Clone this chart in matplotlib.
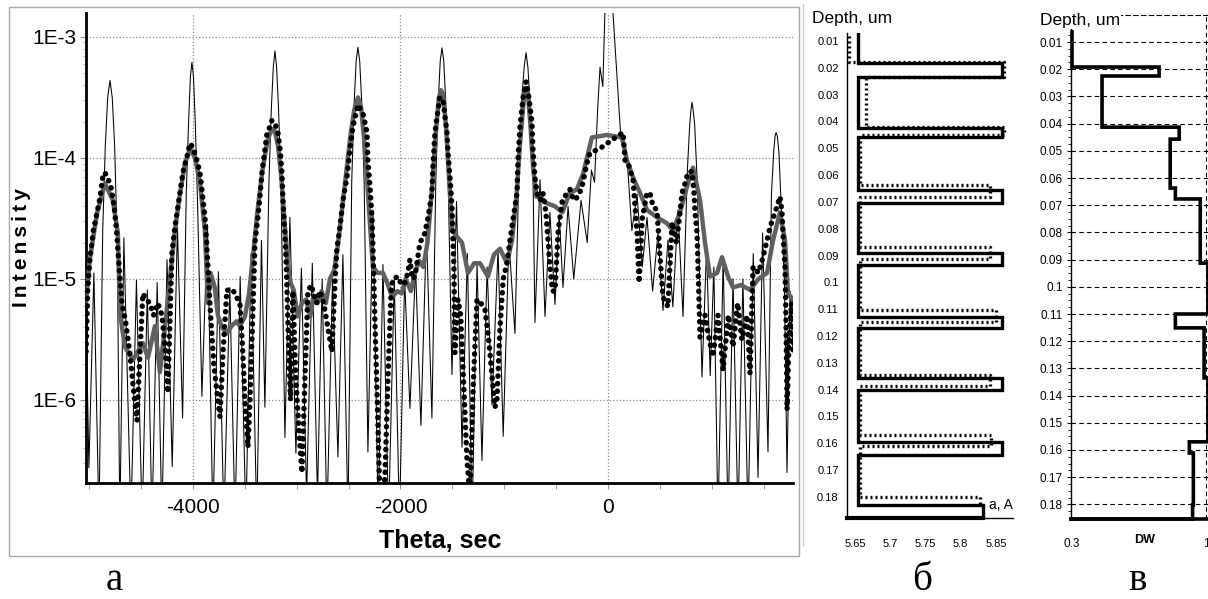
import numpy as np
import matplotlib.pyplot as plt
from matplotlib.patches import Rectangle
from matplotlib.lines import Line2D
from matplotlib.ticker import FixedLocator, LogLocator, NullFormatter

W, H = 1208, 599
NARROW = ['Liberation Sans Narrow', 'Liberation Sans', 'DejaVu Sans']
SANS = ['Liberation Sans', 'DejaVu Sans']
SERIF = ['Liberation Serif', 'DejaVu Serif']

# ---- rocking curve (log10 of intensity) ----
thin_theta = [-5030, -5003, -4955, -4906, -4870, -4845, -4822, -4800, -4778, -4755, -4730,
              -4705, -4666, -4598, -4545, -4490, -4440, -4395, -4345, -4300, -4250, -4200,
              -4150, -4100, -4065, -4042, -4025, -4010, -3995, -3978, -3955, -3914, -3860,
              -3808, -3755, -3702, -3645, -3595, -3545, -3490, -3440, -3385, -3340, -3307,
              -3268, -3245, -3226, -3210, -3194, -3175, -3152, -3114, -3066, -3008, -2955,
              -2905, -2850, -2800, -2755, -2709, -2655, -2603, -2555, -2506, -2470, -2447,
              -2427, -2410, -2393, -2373, -2350, -2314, -2265, -2215, -2169, -2115, -2060,
              -2010, -1960, -1909, -1855, -1803, -1750, -1697, -1660, -1637, -1617, -1600,
              -1583, -1563, -1540, -1504, -1460, -1407, -1355, -1310, -1262, -1215, -1165,
              -1118, -1060, -1010, -955, -897, -858, -835, -808, -790, -772, -748, -725,
              -704, -655, -607, -560, -511, -470, -434, -385, -330, -260, -200, -160, -130,
              -100, -77, -50, -30, -10, 20, 48, 87, 125, 183, 230, 280, 330, 376, 430, 482,
              530, 578, 625, 675, 723, 765, 788, 800, 810, 820, 835, 860, 906, 950, 985,
              1020, 1060, 1110, 1157, 1205, 1253, 1300, 1350, 1400, 1446, 1490, 1542, 1575,
              1597, 1610, 1620, 1632, 1647, 1670, 1700, 1725, 1755, 1783]
thin_log = [-5.3, -6.56, -4.95, -7.0, -4.6, -3.9, -3.5, -3.36, -3.5, -3.9, -4.7,
            -7.0, -4.66, -7.0, -5.01, -7.0, -5.09, -7.0, -5.03, -7.0, -4.84, -6.55,
            -4.57, -6.15, -4.3, -3.7, -3.33, -3.21, -3.33, -3.7, -4.4, -5.97, -4.55,
            -7.0, -4.94, -7.0, -5.07, -7.0, -4.98, -7.0, -4.79, -7.0, -4.68, -6.06,
            -4.2, -3.6, -3.25, -3.115, -3.25, -3.6, -4.2, -6.31, -4.49, -6.44, -4.91,
            -6.8, -4.87, -6.8, -5.0, -7.0, -5.0, -6.47, -4.8, -7.0, -4.2, -3.55,
            -3.2, -3.085, -3.2, -3.55, -4.2, -6.43, -4.43, -7.0, -4.88, -7.0, -5.0,
            -7.0, -5.0, -6.07, -4.9, -6.21, -4.6, -6.15, -4.2, -3.55, -3.2, -3.09,
            -3.2, -3.55, -4.2, -5.79, -4.36, -6.39, -4.79, -7.0, -4.87, -6.5, -4.9,
            -6.04, -4.75, -6.3, -4.68, -5.45, -4.1, -3.55, -3.25, -3.13, -3.25, -3.6, -4.0,
            -5.36, -4.18, -5.31, -4.45, -5.21, -4.47, -5.07, -4.40, -5.0, -4.35, -4.7, -4.1, -4.2,
            -3.6, -3.25, -3.41, -2.8, -2.2, -2.2, -2.8, -3.33, -3.85, -3.99, -4.6, -4.3, -4.9, -4.49, -5.1, -4.62,
            -5.26, -4.68, -5.23, -4.43, -5.31, -4.1, -3.72, -3.6, -3.54, -3.6, -3.72, -4.2, -5.81, -4.74, -5.8,
            -4.90, -7.0, -4.82, -7.0, -5.0, -7.0, -5.0, -7.0, -4.79, -6.64, -4.62, -6.43, -4.3,
            -3.95, -3.82, -3.79, -3.82, -3.95, -4.4, -5.0, -6.6, -5.1, -5.6]

exp_theta = [-5030, -5015, -4994, -4960, -4926, -4895, -4870, -4849, -4820, -4790, -4760,
             -4740, -4724, -4705, -4685, -4650, -4610, -4575, -4540, -4510, -4483, -4450,
             -4415, -4380, -4338, -4299, -4265, -4242, -4220, -4203, -4174, -4126, -4097,
             -4058, -4030, -4001, -3962, -3933, -3914, -3885, -3870, -3856, -3830, -3800,
             -3760, -3740, -3710, -3673, -3640, -3615, -3580, -3548, -3520, -3499, -3470,
             -3451, -3420, -3403, -3374, -3355, -3335, -3307, -3287, -3258, -3239, -3210,
             -3181, -3160, -3143, -3133, -3114, -3100, -3080, -3060, -3037, -3010, -2975,
             -2950, -2920, -2892, -2860, -2844, -2810, -2776, -2740, -2700, -2661, -2630,
             -2612, -2583, -2555, -2516, -2487, -2458, -2410, -2362, -2323, -2314, -2294,
             -2275, -2265, -2245, -2217, -2200, -2180, -2150, -2120, -2090, -2073, -2024,
             -1990, -1957, -1930, -1909, -1885, -1861, -1812, -1764, -1735, -1697, -1687,
             -1668, -1648, -1620, -1590, -1571, -1552, -1542, -1523, -1504, -1494, -1485,
             -1475, -1446, -1420, -1390, -1359, -1330, -1300, -1263, -1225, -1186, -1150,
             -1118, -1090, -1070, -1041, -1010, -974, -945, -916, -877, -868, -848, -819,
             -790, -762, -733, -723, -704, -684, -656, -627, -598, -578, -559, -535, -511,
             -480, -440, -395, -366, -330, -289, -251, -202, -174, -125, -58, 39, 145, 164,
             193, 241, 260, 280, 300, 330, 376, 405, 434, 472, 500, 530, 578, 617, 660,
             694, 713, 742, 771, 810, 829, 839, 858, 868, 887, 935, 975, 1012, 1060, 1109,
             1160, 1205, 1250, 1290, 1340, 1369, 1398, 1450, 1494, 1533, 1562, 1610, 1658,
             1677, 1690, 1706, 1715, 1726, 1745, 1770, 1783]
exp_log = [-5.6, -5.1, -4.84, -4.6, -4.46, -4.32, -4.16, -4.12, -4.17, -4.24, -4.40,
           -4.57, -4.76, -4.98, -5.2, -5.35, -5.6, -5.9, -6.17, -5.6, -5.12, -5.17,
           -5.2, -5.3, -5.2, -5.3, -5.6, -5.94, -5.3, -4.79, -4.57, -4.29, -4.12,
           -3.99, -3.88, -3.91, -4.02, -4.12, -4.26, -4.49, -4.68, -4.90, -5.3, -5.7,
           -6.0, -6.14, -5.6, -5.09, -5.1, -5.09, -5.15, -5.2, -5.6, -6.0, -6.39,
           -6.0, -5.2, -4.70, -4.49, -4.32, -4.12, -3.93, -3.80, -3.74, -3.69, -3.71,
           -3.79, -3.93, -4.12, -4.35, -4.62, -4.90, -5.5, -6.0, -5.1, -5.8, -6.3,
           -6.60, -5.8, -5.1, -5.05, -5.1, -5.2, -5.1, -5.2, -5.4, -5.6, -5.0,
           -4.74, -4.57, -4.35, -4.16, -3.93, -3.74, -3.56, -3.63, -3.79, -4.02, -4.24,
           -4.49, -4.76, -5.4, -6.2, -6.8, -6.8, -6.64, -5.8, -5.1, -5.0, -4.98,
           -5.05, -5.03, -4.95, -4.84, -5.0, -4.98, -4.70, -4.62, -4.49, -4.29, -4.07,
           -3.79, -3.66, -3.50, -3.52, -3.66, -3.79, -3.96, -4.16, -4.40, -4.68, -4.90,
           -5.61, -5.17, -5.3, -5.9, -6.5, -6.8, -5.9, -5.17, -5.2, -5.25, -5.5,
           -5.8, -6.06, -6.0, -5.4, -5.0, -4.87, -4.68, -4.51, -4.29, -4.02, -3.74, -3.50,
           -3.37, -3.50, -3.71, -3.93, -4.16, -4.29, -4.35, -4.29, -4.45, -4.68, -4.90, -5.1, -5.1,
           -4.6, -4.35, -4.29, -4.26, -4.35, -4.32, -4.24, -4.04, -3.96, -3.94, -3.91, -3.85, -3.79, -4.02,
           -4.04, -4.18, -4.40, -4.62, -5.03, -4.5, -4.29, -4.29, -4.40, -4.43, -4.8, -5.15, -5.23, -4.53, -4.7,
           -4.45, -4.29, -4.21, -4.12, -4.11, -4.29, -4.45, -4.62, -4.90, -5.48, -5.3, -5.5, -5.64, -5.3, -5.75,
           -5.3, -5.56, -5.2, -5.5, -5.3, -5.78, -4.90, -4.95, -4.82, -4.68, -4.57, -4.45, -4.32,
           -4.45, -4.68, -4.90, -5.3, -6.08, -5.5, -5.2, -5.6]

fit_theta = [-5032, -4994, -4926, -4849, -4772, -4724, -4704, -4656, -4580, -4483, -4434,
             -4367, -4319, -4270, -4222, -4174, -4126, -4078, -4030, -3981, -3933, -3885,
             -3856, -3830, -3790, -3760, -3720, -3673, -3630, -3580, -3548, -3499, -3460,
             -3420, -3380, -3330, -3290, -3260, -3230, -3210, -3180, -3150, -3120, -3090,
             -3060, -3030, -2990, -2950, -2910, -2870, -2840, -2800, -2760, -2720, -2680,
             -2640, -2600, -2560, -2520, -2480, -2445, -2410, -2380, -2350, -2320, -2290,
             -2265, -2220, -2169, -2120, -2080, -2030, -1990, -1950, -1900, -1860, -1820,
             -1780, -1740, -1700, -1660, -1630, -1610, -1590, -1560, -1530, -1500, -1456,
             -1407, -1350, -1290, -1234, -1157, -1100, -1041, -974, -925, -880, -850, -820,
             -800, -775, -750, -720, -690, -656, -600, -511, -440, -370, -300, -240, -155,
             -10, 135, 183, 241, 309, 376, 472, 568, 626, 694, 760, 820, 887, 935, 983,
             1051, 1099, 1157, 1205, 1280, 1369, 1450, 1533, 1591, 1658, 1706, 1735, 1783]
fit_log = [-5.2, -4.84, -4.46, -4.21, -4.35, -4.62, -5.28, -5.56, -5.67, -5.53, -5.65,
           -5.39, -5.77, -5.4, -5.0, -4.6, -4.3, -4.05, -3.92, -4.0, -4.2, -4.6,
           -5.2, -4.95, -5.07, -5.3, -5.4, -5.45, -5.39, -5.35, -5.39, -5.31, -5.12,
           -4.8, -4.45, -4.1, -3.9, -3.8, -3.76, -3.78, -3.9, -4.15, -4.5, -4.85,
           -5.03, -5.09, -5.31, -5.2, -5.17, -5.31, -5.15, -5.2, -5.1, -5.2, -5.0,
           -4.93, -4.7, -4.4, -4.1, -3.8, -3.6, -3.5, -3.58, -3.85, -4.2, -4.6,
           -4.90, -4.95, -4.95, -5.05, -5.15, -5.1, -5.12, -5.0, -5.1, -4.95, -4.85,
           -4.9, -4.7, -4.3, -3.8, -3.5, -3.44, -3.47, -3.75, -4.2, -4.6, -4.65,
           -4.70, -4.95, -4.87, -4.87, -4.98, -4.8, -4.75, -4.87, -4.68, -4.3, -3.9, -3.6,
           -3.42, -3.43, -3.7, -4.1, -4.32, -4.32, -4.37, -4.40, -4.45, -4.29, -4.26, -4.13, -3.83,
           -3.81, -3.83, -4.02, -4.16, -4.29, -4.43, -4.49, -4.54, -4.60, -4.45, -4.24, -4.08, -4.35, -4.70, -4.98,
           -4.95, -4.82, -4.98, -5.07, -5.05, -5.09, -5.0, -4.95, -4.68, -4.45, -4.68, -5.12, -5.17]

# ---- panel b: lattice parameter profile ----
a_solid_depth = [0.0070, 0.0182, 0.0234, 0.0424, 0.0458, 0.0656, 0.0704, 0.0890, 0.0935,
                 0.1129, 0.1170, 0.1357, 0.1401, 0.1595, 0.1644, 0.1830, 0.1878]
a_solid = [5.654, 5.858, 5.654, 5.858, 5.654, 5.858, 5.654, 5.858, 5.654, 5.858, 5.654,
           5.858, 5.654, 5.858, 5.654, 5.832]
a_dot_depth = [0.0080, 0.0180, 0.0234, 0.0420, 0.0450, 0.0637, 0.0682, 0.0868, 0.0913,
               0.1103, 0.1148, 0.1345, 0.1386, 0.1569, 0.1610, 0.1800, 0.1838]
a_dot = [5.641, 5.862, 5.665, 5.862, 5.657, 5.841, 5.657, 5.841, 5.657, 5.850, 5.657,
         5.841, 5.657, 5.843, 5.657, 5.828]
a_ticks = [5.65, 5.7, 5.75, 5.8, 5.85]

# ---- panel c: Debye-Waller profile ----
dw_depth = [0.0063, 0.0192, 0.0225, 0.0413, 0.0457, 0.0637, 0.0677, 0.0913, 0.1100,
            0.1151, 0.1335, 0.1570, 0.1611, 0.1802, 0.1854]
dw = [0.30, 0.755, 0.457, 0.86, 0.813, 0.84, 0.97, 1.01, 0.84, 0.99, 1.01, 0.913, 0.934, 0.93]
depth_ticks = [0.01, 0.02, 0.03, 0.04, 0.05, 0.06, 0.07, 0.08, 0.09, 0.1, 0.11, 0.12,
               0.13, 0.14, 0.15, 0.16, 0.17, 0.18]


def px(l, t, r, b):
    return [l / W, 1 - b / H, (r - l) / W, (b - t) / H]


def steps(bounds, vals):
    ys = np.repeat(bounds, 2)[1:-1]
    xs = np.repeat(vals, 2)
    return xs, ys


fig = plt.figure(figsize=(W / 100, H / 100), dpi=100)
fig.patches.append(Rectangle((9 / W, 1 - 556 / H), 790 / W, 549 / H, transform=fig.transFigure,
                             fill=False, edgecolor='#a8a8a8', lw=1))
fig.lines.append(Line2D([803 / W, 803 / W], [1 - 545 / H, 1 - 4 / H], transform=fig.transFigure,
                        color='#cfcfcf', lw=1))

# main rocking curve
ax = fig.add_axes(px(86, 13, 793, 483))
ax.semilogy(thin_theta, 10 ** np.array(thin_log), color='black', lw=0.75, zorder=2)
ax.semilogy(fit_theta, 10 ** np.array(fit_log), color='#606060', lw=3.2, zorder=3,
            solid_joinstyle='round')
ax.semilogy(exp_theta, 10 ** np.array(exp_log), color='black', lw=3.9,
            linestyle=(0, (0.05, 1.35)), dash_capstyle='round', zorder=4)
ax.set_xlim(-5031, 1783)
ax.set_ylim(10 ** -6.686, 10 ** -2.802)
ax.xaxis.set_major_locator(FixedLocator([-4000, -2000, 0]))
ax.xaxis.set_minor_locator(FixedLocator(np.arange(-5000, 1501, 500)))
ax.yaxis.set_major_locator(FixedLocator([1e-6, 1e-5, 1e-4, 1e-3]))
ax.yaxis.set_minor_locator(LogLocator(base=10, subs=np.arange(2, 10)))
ax.yaxis.set_minor_formatter(NullFormatter())
ax.set_xticklabels(['-4000', '-2000', '0'])
ax.set_yticklabels(['1E-6', '1E-5', '1E-4', '1E-3'])
for lab in ax.get_xticklabels() + ax.get_yticklabels():
    lab.set_family(NARROW)
    lab.set_fontsize(15)
ax.tick_params(axis='x', which='both', length=4, color='#909090', pad=7)
ax.tick_params(axis='y', which='major', length=4, color='#909090', pad=3)
ax.tick_params(axis='y', which='minor', length=2, color='#b0b0b0')
ax.grid(True, which='major', linestyle=':', color='#8c8c8c', lw=0.9)
for s in ['top', 'right']:
    ax.spines[s].set_visible(False)
for s in ['left', 'bottom']:
    ax.spines[s].set_linewidth(2)
fig.text(22 / W, 1 - 248 / H, 'I\u2009n\u2009t\u2009e\u2009n\u2009s\u2009i\u2009t\u2009y', rotation=90,
         ha='center', va='center', fontsize=15, fontweight='bold', family=SANS)
fig.text(440 / W, 1 - 541 / H, 'Theta, sec', ha='center', va='center', fontsize=18,
         fontweight='bold', family=NARROW)

# panel b
ax2 = fig.add_axes(px(847, 33, 1013, 518))
xs, ys = steps(a_dot_depth, a_dot)
ax2.plot(xs, ys, color='black', lw=2.4, linestyle=(0, (0.6, 0.9)), zorder=2)
xs, ys = steps(a_solid_depth, a_solid)
ax2.plot(xs, ys, color='black', lw=2.4, zorder=3, solid_joinstyle='miter')
ax2.set_xlim(5.6387, 5.8742)
ax2.set_ylim(0.18785, 0.00702)
ax2.plot([5.6387, a_solid[-1]], [0.18785, 0.18785], color='black', lw=3, clip_on=False)
ax2.set_xticks(a_ticks)
ax2.set_xticklabels(['%g' % v for v in a_ticks], family=NARROW, fontsize=8)
ax2.set_yticks(depth_ticks)
ax2.set_yticklabels(['%g' % v for v in depth_ticks], family=NARROW, fontsize=8)
ax2.tick_params(axis='x', length=0, pad=15)
ax2.tick_params(axis='y', length=0, pad=6)
for s in ['top', 'right']:
    ax2.spines[s].set_visible(False)
ax2.spines['left'].set_linewidth(1)
ax2.spines['bottom'].set_linewidth(1)
ax2.text(1.0, 0.012, 'a, A', transform=ax2.transAxes, ha='right', va='bottom',
         family=NARROW, fontsize=10)
fig.text(852 / W, 1 - 19 / H, 'Depth, um', ha='center', va='center', family=NARROW, fontsize=12.5)

# panel c
ax3 = fig.add_axes(px(1071, 15, 1208, 519))
ax3.set_xlim(0.2948, 1.0105)
ax3.set_ylim(0.18537, 0.00007)
for d in depth_ticks:
    ax3.axhline(d, color='black', lw=0.8, linestyle=(0, (4, 3)), zorder=1)
ax3.axvline(1.0, color='black', lw=0.8, linestyle=(0, (4, 3)), zorder=1)
xs, ys = steps(dw_depth, dw)
ax3.plot(np.append(xs, 0.2948), np.append(ys, 0.18537), color='black', lw=2.6, zorder=3,
         solid_joinstyle='miter', clip_on=False)
ax3.set_yticks(depth_ticks)
ax3.set_yticklabels(['%g' % v for v in depth_ticks], family=SANS, fontsize=8.5)
ax3.yaxis.set_minor_locator(FixedLocator(np.arange(0.0025, 0.185, 0.0025)))
ax3.tick_params(axis='y', which='major', length=3, pad=3)
ax3.tick_params(axis='y', which='minor', length=2)
ax3.set_xticks([0.3, 1.0])
ax3.set_xticklabels(['0.3', '1'], family=SANS, fontsize=8.5)
ax3.tick_params(axis='x', length=0, pad=14)
ax3.spines['right'].set_visible(False)
ax3.spines['top'].set_linestyle((0, (4, 3)))
ax3.spines['top'].set_linewidth(0.8)
ax3.spines['left'].set_linewidth(1)
ax3.spines['bottom'].set_linewidth(2.6)
fig.text(1145 / W, 1 - 540 / H, 'DW', ha='center', va='center', family=SANS, fontsize=9,
         fontweight='bold')
fig.text(1080 / W, 1 - 20 / H, 'Depth, um', ha='center', va='center', family=SANS, fontsize=12.5,
         bbox=dict(facecolor='white', edgecolor='none', pad=1))

# panel letters
fig.text(114 / W, 1 - 580 / H, 'а', ha='center', va='center', family=SERIF, fontsize=28)
fig.text(922 / W, 1 - 580 / H, 'б', ha='center', va='center', family=SERIF, fontsize=28)
fig.text(1137 / W, 1 - 580 / H, 'в', ha='center', va='center', family=SERIF, fontsize=28)

fig.savefig('out.png', dpi=100)
